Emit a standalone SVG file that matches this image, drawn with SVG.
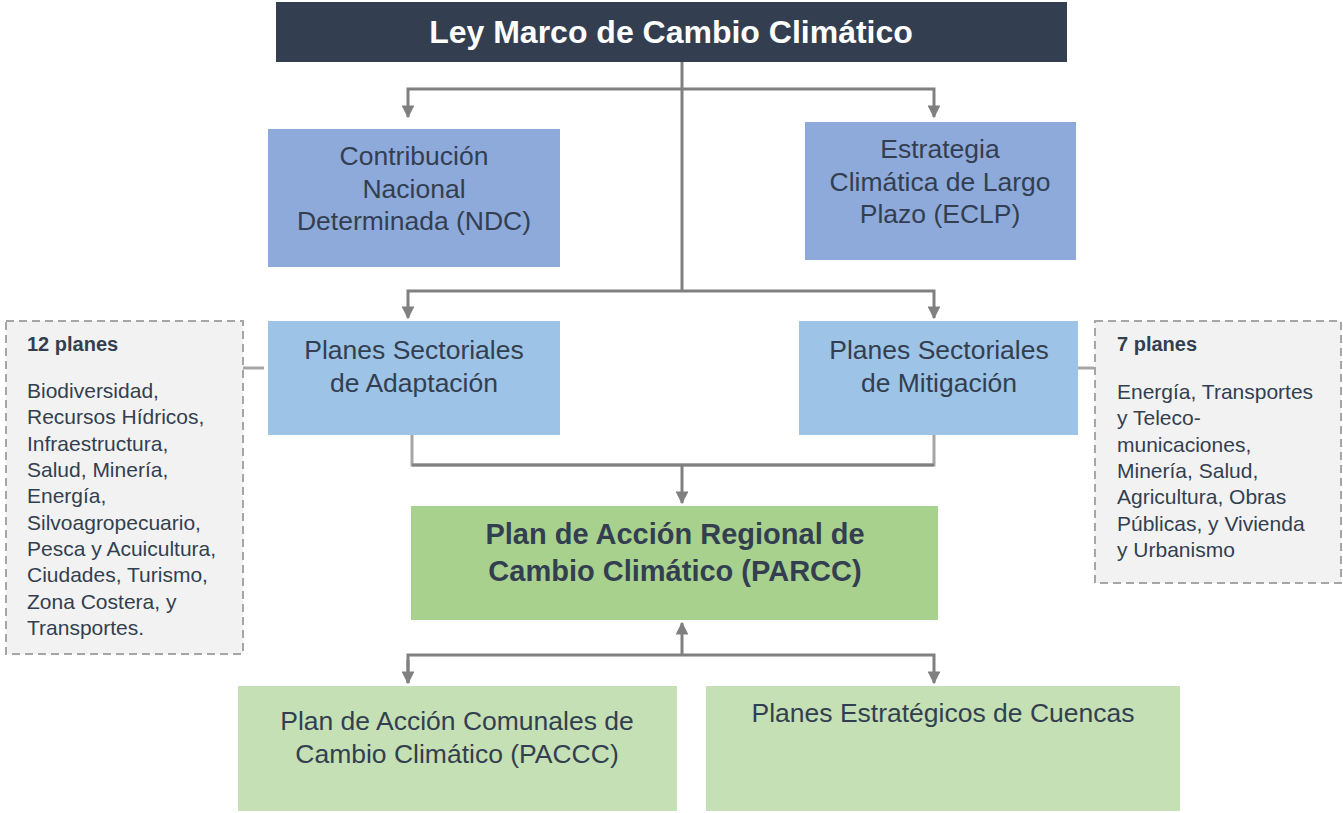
<svg xmlns="http://www.w3.org/2000/svg" width="1343" height="813" viewBox="0 0 1343 813">
<defs>
<style>
.t{font-family:"Liberation Sans",Arial,sans-serif;fill:#333f50;text-anchor:middle;font-size:26.5px}
.b{font-weight:bold}
.l{font-family:"Liberation Sans",Arial,sans-serif;fill:#333f50;font-size:21px}
.c{fill:none;stroke:#808080;stroke-width:3}
.cl{fill:none;stroke:#a6a6a6;stroke-width:3}
.note{fill:#f2f2f2;stroke:#a6a6a6;stroke-width:2;stroke-dasharray:8 5}
</style>
<marker id="ah" viewBox="0 0 10 10" refX="9" refY="5" markerWidth="4.3" markerHeight="4.3" orient="auto" markerUnits="strokeWidth">
<path d="M0,0 L10,5 L0,10 z" fill="#808080"/>
</marker>
</defs>
<rect width="1343" height="813" fill="#ffffff"/>
<g id="connectors">
<path class="c" d="M682,62 V291"/>
<path class="c" d="M682,89 H408 V117" marker-end="url(#ah)"/>
<path class="c" d="M682,89 H934 V117" marker-end="url(#ah)"/>
<path class="c" d="M682,291 H408 V318" marker-end="url(#ah)"/>
<path class="c" d="M682,291 H934 V318" marker-end="url(#ah)"/>
<path class="cl" d="M412,435 V465 H934 V435"/>
<path class="c" d="M412,465 H934"/>
<path class="c" d="M682,465 V503" marker-end="url(#ah)"/>
<path class="c" d="M682,655 V623" marker-end="url(#ah)"/>
<path class="c" d="M408,683 V655 H934 V683" marker-end="url(#ah)"/>
<path class="c" d="M408,660 V683" marker-end="url(#ah)"/>
<path class="cl" d="M243,368 H264"/>
<path class="cl" d="M1078,368 H1094"/>
</g>
<g id="ley">
<rect x="276" y="2" width="791" height="60" fill="#333f50"/>
<text class="t b" x="671" y="43" style="fill:#ffffff;font-size:32px">Ley Marco de Cambio Climático</text>
</g>
<g id="ndc">
<rect x="268" y="129" width="292" height="138" fill="#8eaadb"/>
<text class="t" x="414" y="165">Contribución</text>
<text class="t" x="414" y="198">Nacional</text>
<text class="t" x="414" y="230">Determinada (NDC)</text>
</g>
<g id="eclp">
<rect x="805" y="122" width="271" height="138" fill="#8eaadb"/>
<text class="t" x="940" y="158">Estrategia</text>
<text class="t" x="940" y="191">Climática de Largo</text>
<text class="t" x="940" y="223">Plazo (ECLP)</text>
</g>
<g id="adaptacion">
<rect x="268" y="321" width="292" height="114" fill="#9dc3e6"/>
<text class="t" x="414" y="359">Planes Sectoriales</text>
<text class="t" x="414" y="392">de Adaptación</text>
</g>
<g id="mitigacion">
<rect x="799" y="321" width="279" height="114" fill="#9dc3e6"/>
<text class="t" x="939" y="359">Planes Sectoriales</text>
<text class="t" x="939" y="392">de Mitigación</text>
</g>
<g id="parcc">
<rect x="411" y="506" width="527" height="114" fill="#a9d18e"/>
<text class="t b" x="675" y="544" style="font-size:29px">Plan de Acción Regional de</text>
<text class="t b" x="675" y="581" style="font-size:29px">Cambio Climático (PARCC)</text>
</g>
<g id="paccc">
<rect x="238" y="686" width="439" height="125" fill="#c5e0b4"/>
<text class="t" x="457" y="730">Plan de Acción Comunales de</text>
<text class="t" x="457" y="763">Cambio Climático (PACCC)</text>
</g>
<g id="cuencas">
<rect x="706" y="686" width="474" height="125" fill="#c5e0b4"/>
<text class="t" x="943" y="722">Planes Estratégicos de Cuencas</text>
</g>
<g id="nota-adaptacion">
<rect class="note" x="6" y="321" width="237" height="333"/>
<text class="l b" x="27" y="351" style="font-size:20px">12 planes</text>
<text class="l" x="27" y="398">Biodiversidad,</text>
<text class="l" x="27" y="424">Recursos Hídricos,</text>
<text class="l" x="27" y="451">Infraestructura,</text>
<text class="l" x="27" y="477">Salud, Minería,</text>
<text class="l" x="27" y="503">Energía,</text>
<text class="l" x="27" y="530">Silvoagropecuario,</text>
<text class="l" x="27" y="556">Pesca y Acuicultura,</text>
<text class="l" x="27" y="582">Ciudades, Turismo,</text>
<text class="l" x="27" y="609">Zona Costera, y</text>
<text class="l" x="27" y="635">Transportes.</text>
</g>
<g id="nota-mitigacion">
<rect class="note" x="1095" y="321" width="246" height="262"/>
<text class="l b" x="1117" y="351" style="font-size:20px">7 planes</text>
<text class="l" x="1117" y="399">Energía, Transportes</text>
<text class="l" x="1117" y="425">y Teleco-</text>
<text class="l" x="1117" y="452">municaciones,</text>
<text class="l" x="1117" y="478">Minería, Salud,</text>
<text class="l" x="1117" y="504">Agricultura, Obras</text>
<text class="l" x="1117" y="531">Públicas, y Vivienda</text>
<text class="l" x="1117" y="557">y Urbanismo</text>
</g>
</svg>
